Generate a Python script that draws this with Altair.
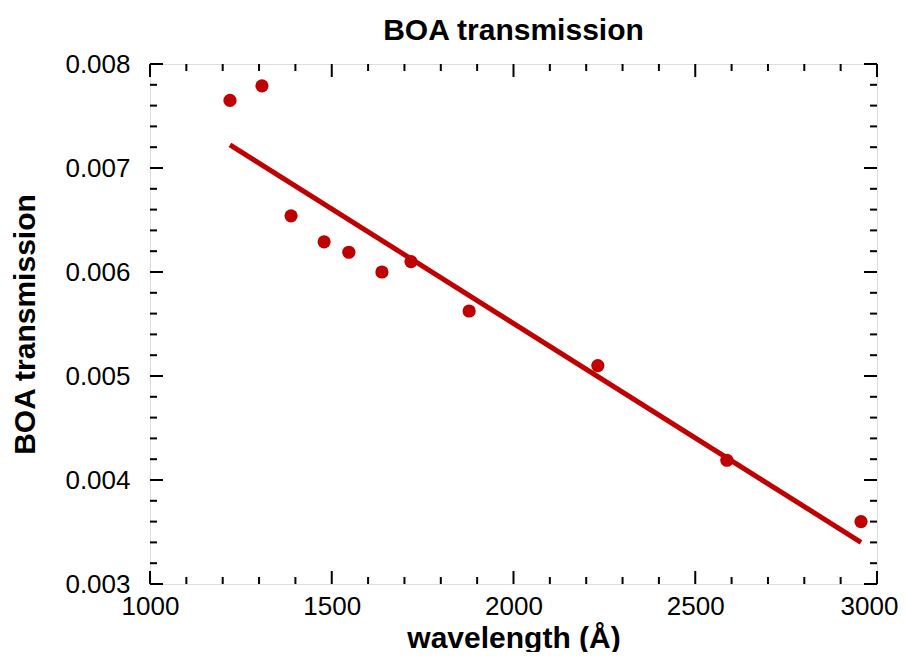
import altair as alt
import pandas as pd

wavelength = [1220, 1308, 1388, 1479, 1547, 1638, 1718, 1878, 2232, 2587, 2956]
transmission = [0.00765, 0.00779, 0.00654, 0.00629, 0.00619, 0.00600, 0.00610,
                0.005625, 0.00510, 0.00419, 0.00360]

x_major = [1000, 1500, 2000, 2500, 3000]
x_minor = [1100, 1200, 1300, 1400, 1600, 1700, 1800, 1900, 2100, 2200, 2300,
           2400, 2600, 2700, 2800, 2900]
y_major = [0.003, 0.004, 0.005, 0.006, 0.007, 0.008]
y_minor = [0.0032, 0.0034, 0.0036, 0.0038, 0.0042, 0.0044, 0.0046, 0.0048,
           0.0052, 0.0054, 0.0056, 0.0058, 0.0062, 0.0064, 0.0066, 0.0068,
           0.0072, 0.0074, 0.0076, 0.0078]

W, H = 727, 520
RED = "#C00000"
FONT = "Liberation Sans"

pts = pd.DataFrame({"wl": wavelength, "tr": transmission})

xscale = alt.Scale(domain=[1000, 3000], nice=False, zero=False)
yscale = alt.Scale(domain=[0.003, 0.008], nice=False, zero=False)

xaxis = alt.Axis(values=x_major, format="d", ticks=False, domain=False, grid=False,
                 labelFlush=False, labelOverlap=False,
                 labelOffset={"condition": {"test": "datum.value == 3000", "value": -8},
                              "value": 0},
                 labelFontSize=26, labelFont=FONT, labelColor="black", labelPadding=9,
                 title="wavelength (Å)", titleFontSize=30, titleFont=FONT,
                 titleFontWeight="bold", titleColor="black", titlePadding=4)
yaxis = alt.Axis(values=y_major, format=".3f", ticks=False, domain=False, grid=False,
                 labelFlush=False, labelOverlap=False,
                 labelFontSize=26, labelFont=FONT, labelColor="black", labelPadding=20,
                 title="BOA transmission", titleFontSize=30, titleFont=FONT,
                 titleFontWeight="bold", titleColor="black", titlePadding=24)

X = alt.X("wl:Q", scale=xscale, axis=xaxis)
Y = alt.Y("tr:Q", scale=yscale, axis=yaxis)

points = alt.Chart(pts).mark_circle(size=175, color=RED, opacity=1).encode(x=X, y=Y)
fit = alt.Chart(pts).transform_regression("wl", "tr").mark_line(
    color=RED, strokeWidth=5, strokeCap="butt").encode(x=X, y=Y)


def xticks(vals, length):
    df = pd.DataFrame({"wl": vals})
    base = alt.Chart(df).mark_rule(color="black", strokeWidth=2)
    bottom = base.encode(x=X, y=alt.value(H), y2=alt.value(H - length))
    top = base.encode(x=X, y=alt.value(0), y2=alt.value(length))
    return [bottom, top]


def yticks(vals, length):
    df = pd.DataFrame({"tr": vals})
    base = alt.Chart(df).mark_rule(color="black", strokeWidth=2)
    left = base.encode(y=Y, x=alt.value(0), x2=alt.value(length))
    right = base.encode(y=Y, x=alt.value(W), x2=alt.value(W - length))
    return [left, right]


layers = (xticks(x_major, 13) + xticks(x_minor, 7) + yticks(y_major, 13)
          + yticks(y_minor, 7) + [fit, points])

chart = alt.layer(*layers).properties(
    width=W, height=H,
    title=alt.Title("BOA transmission", fontSize=30, font=FONT, fontWeight="bold",
                    color="black", anchor="middle", offset=5),
    autosize=alt.AutoSizeParams(type="none"),
    padding={"left": 142, "top": 56, "right": 21, "bottom": 68},
).configure_view(stroke="black", strokeWidth=2).configure(background="white")

chart.save("out.html", embed_options={"renderer": "svg", "actions": False})
